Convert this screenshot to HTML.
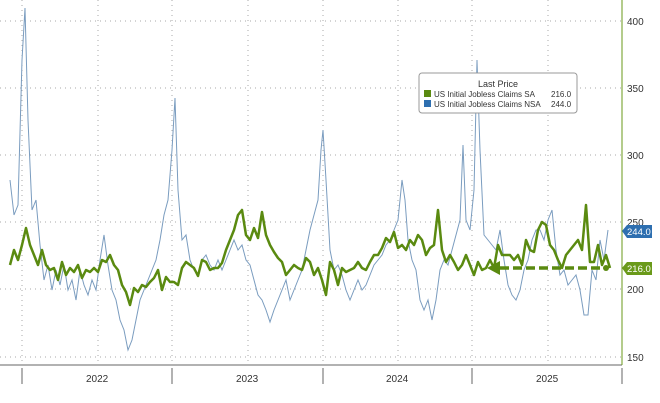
<!DOCTYPE html><html><head><style>body{margin:0;background:#fff}svg{display:block;font-family:"Liberation Sans",sans-serif}</style></head><body>
<svg width="660" height="403" viewBox="0 0 660 403">
<g stroke="#aaa" stroke-dasharray="1,4" stroke-width="1">
<line x1="0" y1="21" x2="622" y2="21"/><line x1="0" y1="88" x2="622" y2="88"/><line x1="0" y1="155" x2="622" y2="155"/><line x1="0" y1="222" x2="622" y2="222"/><line x1="0" y1="289" x2="622" y2="289"/><line x1="0" y1="357" x2="622" y2="357"/>
<line x1="22" y1="0" x2="22" y2="365"/><line x1="98" y1="0" x2="98" y2="365"/><line x1="172" y1="0" x2="172" y2="365"/><line x1="248" y1="0" x2="248" y2="365"/><line x1="323" y1="0" x2="323" y2="365"/><line x1="398" y1="0" x2="398" y2="365"/><line x1="472" y1="0" x2="472" y2="365"/><line x1="548" y1="0" x2="548" y2="365"/>
</g>
<line x1="0" y1="365" x2="622" y2="365" stroke="#666"/>
<g stroke="#666"><line x1="22" y1="368" x2="22" y2="384"/><line x1="172" y1="368" x2="172" y2="384"/><line x1="323" y1="368" x2="323" y2="384"/><line x1="472" y1="368" x2="472" y2="384"/><line x1="622" y1="368" x2="622" y2="384"/></g>
<line x1="622" y1="0" x2="622" y2="365" stroke="#6a9a1a"/>
<g font-size="10" fill="#333"><text x="86" y="382">2022</text><text x="236" y="382">2023</text><text x="386" y="382">2024</text><text x="536" y="382">2025</text>
<text x="627" y="25">400</text><text x="627" y="92">350</text><text x="627" y="159">300</text><text x="627" y="226">250</text><text x="627" y="293">200</text><text x="627" y="361">150</text></g>
<polyline fill="none" stroke="#7a9cbf" stroke-width="1" points="10,180 14,215 18,205 22,60 25,8 28,120 32,210 36,200 40,245 44,280 48,265 52,290 56,270 60,285 64,265 68,290 72,280 76,300 80,270 84,285 88,295 92,280 96,290 100,260 104,235 108,265 112,290 116,300 120,320 124,330 128,350 132,340 136,320 140,300 144,290 148,280 152,270 156,260 160,240 164,215 168,200 172,150 175,98 178,190 182,240 186,235 190,260 194,270 198,275 202,260 206,255 210,265 214,270 218,260 222,270 226,260 230,250 234,240 238,250 242,245 246,260 250,265 254,280 258,295 262,300 266,310 270,322 274,310 278,300 282,290 286,280 290,300 294,290 298,280 302,270 306,250 310,230 314,215 318,200 321,150 323,130 326,180 330,250 334,270 338,265 342,275 346,290 350,300 354,290 358,280 362,290 366,285 370,275 374,265 378,260 382,255 386,245 390,240 394,230 398,220 402,180 405,200 408,240 412,260 416,270 420,300 424,310 428,300 432,320 436,300 440,270 444,260 448,265 452,250 456,235 460,220 463,145 466,220 470,230 474,190 477,60 480,150 484,235 488,240 492,245 496,250 500,230 504,260 508,285 512,295 516,300 520,290 524,270 528,260 532,240 536,230 540,230 544,240 548,220 552,210 556,250 560,275 564,270 568,285 572,280 576,275 580,290 584,315 588,315 592,270 596,280 600,240 604,260 608,230"/>
<polyline fill="none" stroke="#5a8a10" stroke-width="2.5" stroke-linejoin="round" points="10,265 14,250 18,260 22,245 26,228 30,245 34,255 38,265 42,250 46,265 50,270 54,268 58,280 62,262 66,275 70,268 74,272 78,265 82,278 86,270 90,272 94,268 98,272 102,260 106,262 110,255 114,265 118,270 122,285 126,292 130,305 134,288 138,292 142,285 146,287 150,282 154,278 158,270 162,290 166,277 170,282 174,282 178,285 182,268 186,262 190,265 194,268 198,276 202,260 206,262 210,270 214,268 218,268 222,263 226,250 230,240 234,230 238,215 242,210 246,235 250,240 254,228 258,238 262,212 266,235 270,245 274,252 278,258 282,262 286,275 290,270 294,265 298,268 302,270 306,258 310,262 314,275 318,268 322,280 326,295 330,262 334,270 338,285 342,268 346,272 350,270 354,268 358,262 362,268 366,270 370,262 374,255 378,255 382,248 386,238 390,242 394,232 398,248 402,245 406,250 410,240 414,245 418,235 422,240 426,255 430,248 434,245 438,210 442,250 446,262 450,255 454,262 458,270 462,265 466,255 470,265 474,275 478,262 482,270 486,268 490,260 494,268 498,245 502,255 506,255 510,255 514,260 518,255 522,265 526,240 530,250 534,252 538,230 542,222 546,225 550,245 554,250 558,260 562,268 566,255 570,250 574,245 578,240 582,250 586,205 590,262 594,262 598,245 602,265 606,255 610,268"/>
<line x1="500" y1="268" x2="603" y2="268" stroke="#5a8a10" stroke-width="3.5" stroke-dasharray="9,4"/>
<polygon points="487,268 500,261 500,275" fill="#5a8a10"/><circle cx="606" cy="268" r="3" fill="#5a8a10"/>
<polygon points="622,231 627,225 652,225 652,238 627,238" fill="#2e6fb0"/><text x="627" y="235" font-size="9.5" fill="#fff">244.0</text>
<polygon points="622,268 627,262 652,262 652,275 627,275" fill="#6a9a1a"/><text x="627" y="272" font-size="9.5" fill="#fff">216.0</text>
<rect x="419" y="73" width="158" height="40" rx="3" fill="#fff" stroke="#999"/>
<text x="478" y="87" font-size="9" fill="#333">Last Price</text>
<rect x="424" y="90" width="7" height="7" fill="#5a8a10"/><text x="434" y="97" font-size="8" fill="#333">US Initial Jobless Claims SA</text><text x="551" y="97" font-size="8" fill="#333">216.0</text>
<rect x="424" y="100" width="7" height="7" fill="#2e6fb0"/><text x="434" y="107" font-size="8" fill="#333">US Initial Jobless Claims NSA</text><text x="551" y="107" font-size="8" fill="#333">244.0</text>
</svg></body></html>
